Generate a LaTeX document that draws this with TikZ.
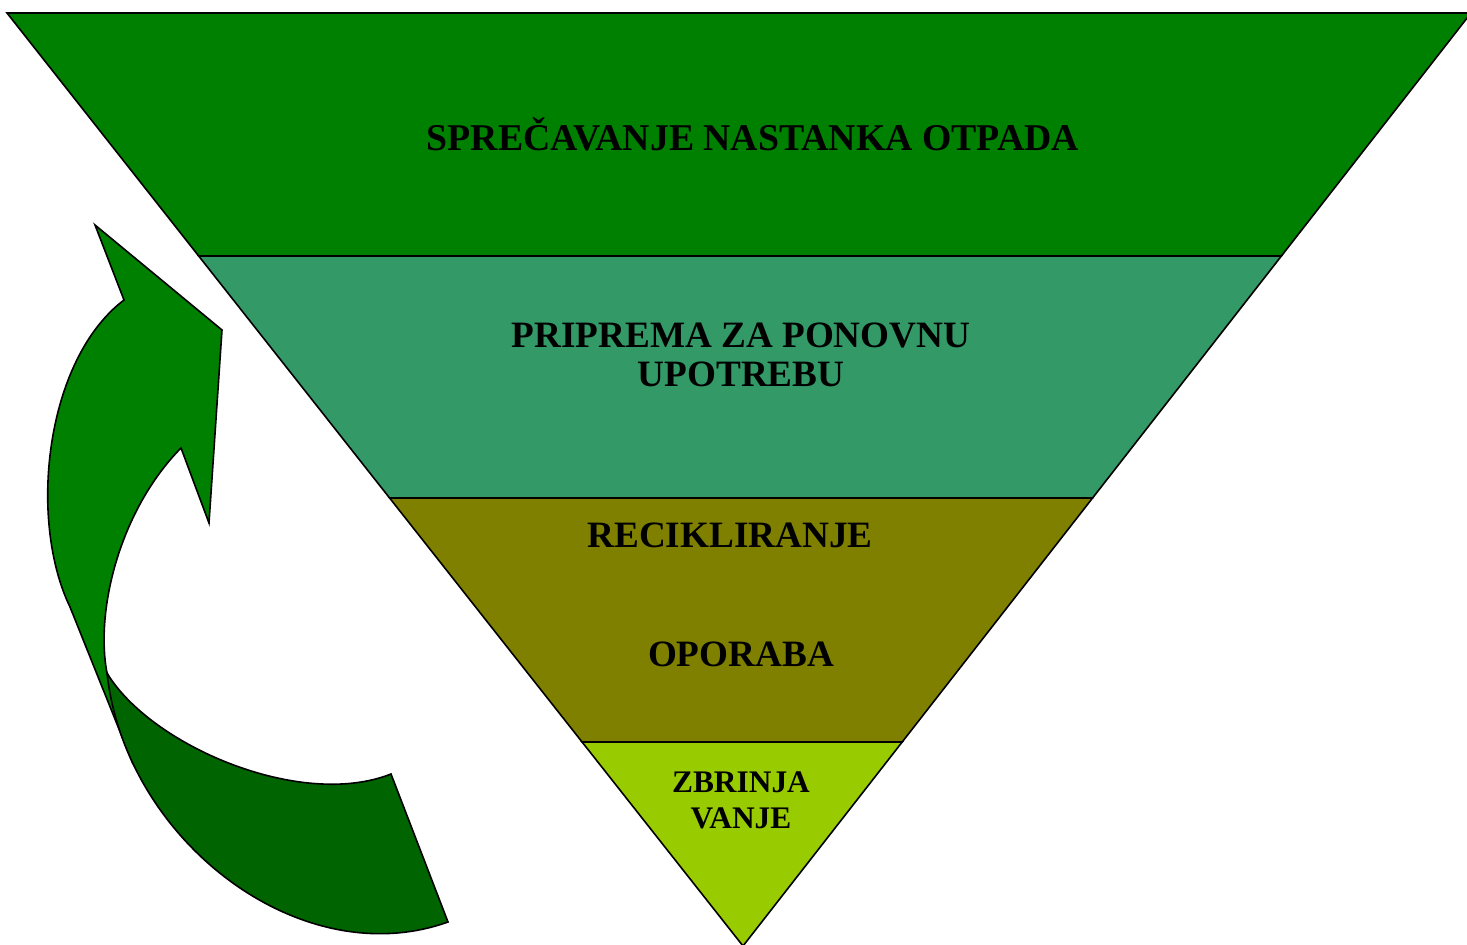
\documentclass[tikz,border=0pt]{standalone}
\usepackage{fontspec}
\setmainfont{Liberation Serif}
\usetikzlibrary{calc}
\definecolor{prevgreen}{RGB}{0,128,0}
\definecolor{reusegreen}{RGB}{51,153,102}
\definecolor{recolive}{RGB}{128,128,0}
\definecolor{displime}{RGB}{153,204,0}
\definecolor{arrowdark}{RGB}{0,100,0}
\tikzset{
  level/.style={draw=black, line width=0.8pt, line join=miter},
  levelname/.style={font=\fontsize{18.6}{19.5}\selectfont\bfseries, align=center, inner sep=0pt, anchor=base},
  smallname/.style={levelname, font=\fontsize{15.7}{18}\selectfont\bfseries}
}
\begin{document}
\begin{tikzpicture}[x=0.5pt, y=-0.5pt]
\useasboundingbox (0,0) rectangle (1467,945);
\coordinate (tl) at (7,13);
\coordinate (tr) at (1471,13);
\coordinate (apex) at (743,946);
\coordinate (l1) at ($(tl)!0.2605!(apex)$);
\coordinate (r1) at ($(tr)!0.2605!(apex)$);
\coordinate (l2) at ($(tl)!0.5198!(apex)$);
\coordinate (r2) at ($(tr)!0.5198!(apex)$);
\coordinate (l3) at ($(tl)!0.7814!(apex)$);
\coordinate (r3) at ($(tr)!0.7814!(apex)$);

\draw[level, fill=prevgreen] (tl) -- (tr) -- (r1) -- (l1) -- cycle;
\draw[level, fill=reusegreen] (l1) -- (r1) -- (r2) -- (l2) -- cycle;
\draw[level, fill=recolive] (l2) -- (r2) -- (r3) -- (l3) -- cycle;
\draw[level, fill=displime] (l3) -- (r3) -- (apex) -- cycle;

\node (prevent) [levelname, font=\fontsize{18.9}{19.5}\selectfont\bfseries] at (753,151) {SPREČAVANJE NASTANKA OTPADA};
\node (reuse) [levelname] at (741,387) {PRIPREMA ZA PONOVNU\\UPOTREBU};
\node (recycle) [levelname] at (730,548) {RECIKLIRANJE};
\node (recover) [levelname] at (741,667) {OPORABA};
\node (dispose) [smallname] at (741,828) {ZBRINJA\\VANJE};

\draw[level, fill=prevgreen] (124,300) -- (95,225) -- (222,330) -- (209,523) -- (181,448)
  .. controls (120,510) and (95,610) .. (107,673) -- (125,712) -- (131,759) -- (70,607)
  .. controls (28,520) and (45,360) .. (124,300) -- cycle;
\draw[level, fill=arrowdark] (107,673) .. controls (150,745) and (300,810) .. (391,774)
  -- (448,922) .. controls (300,975) and (125,840) .. (107,673) -- cycle;
\end{tikzpicture}
\end{document}
